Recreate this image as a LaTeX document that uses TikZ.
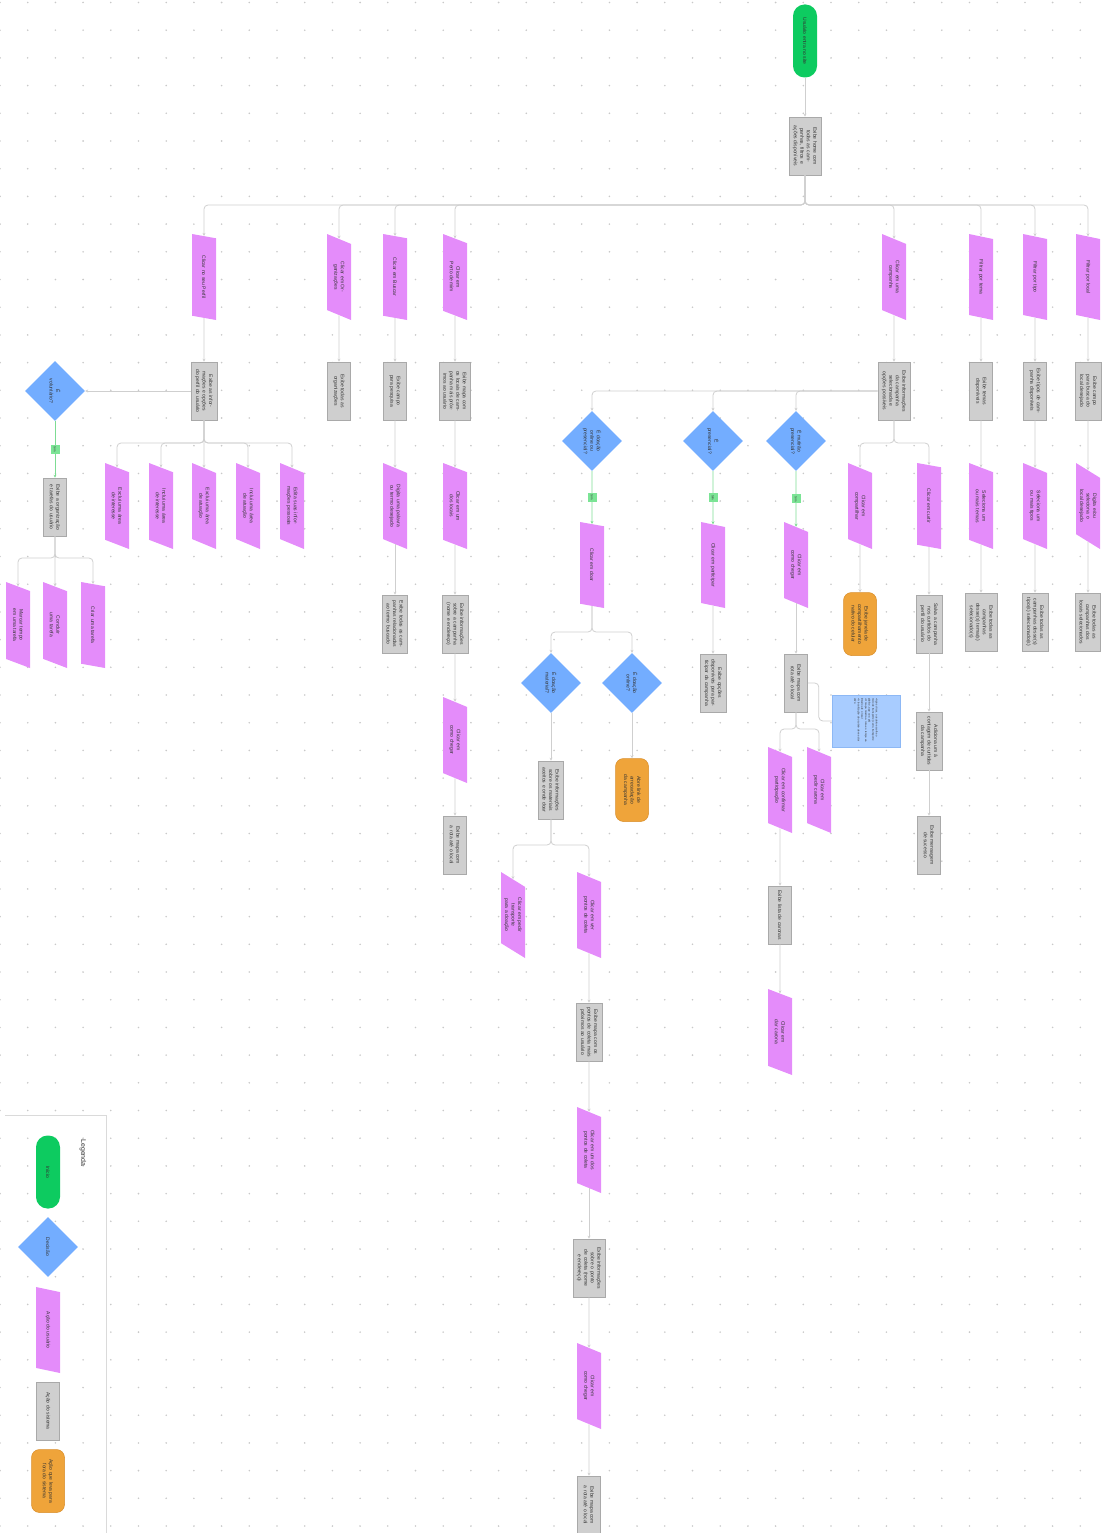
\documentclass[tikz,border=0pt]{standalone}
\usepackage{fontspec}
\setmainfont{Liberation Sans}
\usetikzlibrary{shapes.geometric,arrows.meta}

\begin{document}
\begin{tikzpicture}[x=1pt, y=-1pt,
    caixa/.style={rotate=-90, align=center, text=black!80, font=\fontsize{5}{6.5}\selectfont},
    inicio/.style={caixa, rectangle, fill=colInicio, rounded corners=11.5pt, minimum width=73pt, minimum height=24pt, text width=62pt, inner sep=1pt},
    acao/.style={caixa, trapezium, trapezium left angle=53, trapezium right angle=127, trapezium stretches body, fill=colAcao, minimum width=86pt, minimum height=24pt, text width=44pt, inner sep=1pt},
    sistema/.style={caixa, rectangle, fill=colSis, draw=colSisB, line width=0.6pt, minimum width=58pt, minimum height=23pt, text width=50pt, inner xsep=3pt, inner ysep=4pt},
    decisao/.style={caixa, diamond, aspect=1, fill=colDec, minimum width=60pt, minimum height=60pt, text width=32pt, inner sep=0pt},
    fora/.style={caixa, rectangle, rounded corners=8pt, fill=colFora, draw=colForaB, line width=0.5pt, minimum width=63pt, minimum height=33pt, text width=48pt, inner sep=2pt},
    lembrete/.style={caixa, rectangle, fill=colNota, draw=colNotaB, line width=0.4pt, minimum width=52pt, minimum height=68pt, text width=46pt, align=left, inner sep=2pt, font=\fontsize{2.6}{3.6}\selectfont},
    rotulo/.style={caixa, rectangle, sharp corners, fill=colSim, minimum size=9pt, inner sep=0.5pt, font=\fontsize{3}{3.5}\selectfont},
    seta/.style={draw=colLinha, line width=0.8pt, rounded corners=4pt, -{Stealth[length=3pt,width=3pt]}},
    setaSim/.style={seta, draw=colLinhaSim},
]
    \definecolor{colInicio}{HTML}{0DCB60}
    \definecolor{colAcao}{HTML}{E48CFA}
    \definecolor{colSis}{HTML}{CFCFCF}
    \definecolor{colSisB}{HTML}{A9A9A9}
    \definecolor{colDec}{HTML}{73ADFF}
    \definecolor{colFora}{HTML}{EFA43A}
    \definecolor{colForaB}{HTML}{D98E2B}
    \definecolor{colNota}{HTML}{A8CCFF}
    \definecolor{colNotaB}{HTML}{8DB8F5}
    \definecolor{colSim}{HTML}{7BE495}
    \definecolor{colLinha}{HTML}{CFCFCF}
    \definecolor{colLinhaSim}{HTML}{7DDC93}
    \definecolor{colPonto}{HTML}{C9C9C9}
    \definecolor{colBorda}{HTML}{DADADA}

    \useasboundingbox (0,0) rectangle (1104,1533);

    % grade de pontos
    \foreach \i in {0,...,39}
        \foreach \j in {0,...,55}
            \fill[colPonto] (27.7*\i, 2.5+27.7*\j) circle (0.9pt);

    % inicio
    \node[inicio] (inicio) at (805,41) {Usuário entra no site};
    \node[sistema] (home) at (805,146) {Exibe home com todas as campanhas, filtros e ações disponíveis};
    \coordinate (bTopo) at (805,205);

    % primeira linha
    \node[acao] (pPerfil) at (204,277) {Clicar no seu Perfil};
    \node[acao] (pOrg) at (339,277) {Clicar em Organizações};
    \node[acao] (pBusca) at (395,277) {Clicar em Buscar};
    \node[acao] (pPerto) at (455,277) {Clicar em Perto de mim};
    \node[acao] (pCamp) at (894,277) {Clicar em uma campanha};
    \node[acao] (pTema) at (981,277) {Filtrar por tema};
    \node[acao] (pTipo) at (1035,277) {Filtrar por tipo};
    \node[acao] (pLocal) at (1088,277) {Filtrar por local};

    \node[sistema] (sPerfil) at (204,391) {Exibe as informações e opções do perfil do usuário};
    \node[sistema] (sOrg) at (339,391) {Exibe todas as organizações};
    \node[sistema] (sBusca) at (395,391) {Exibe campo para pesquisa};
    \node[sistema] (sPerto) at (455,391) {Exibe mapa com os locais de campanha mais próximos ao usuário};
    \node[sistema] (sCamp) at (894,391) {Exibe informações da campanha selecionada e opções possíveis};
    \node[sistema] (sTema) at (981,391) {Exibe temas disponíveis};
    \node[sistema] (sTipo) at (1035,391) {Exibe tipos de campanha disponíveis};
    \node[sistema] (sLocal) at (1088,391) {Exibe campo para busca do local desejado};

    % perfil
    \node[decisao] (dVol) at (55,391) {É\\ voluntário?};
    \node[sistema] (sTarefas) at (55,507) {Exibe a organização e tarefas do usuário};
    \node[acao] (pMarcar) at (18,625) {Marcar tempo em uma tarefa};
    \node[acao] (pConcluir) at (55,625) {Concluir uma tarefa};
    \node[acao] (pCriar) at (93,625) {Criar uma tarefa};
    \coordinate (bTarefas) at (55,558);

    \node[acao] (pExclInt) at (117,506) {Exclui uma área de interesse};
    \node[acao] (pInclInt) at (161,506) {Inclui uma área de interesse};
    \node[acao] (pExclAt) at (204,506) {Exclui uma área de atuação};
    \node[acao] (pInclAt) at (248,506) {Inclui uma área de atuação};
    \node[acao] (pEdita) at (292,506) {Edita suas informações pessoais};
    \coordinate (bPerfil) at (204,443);

    % buscar e perto de mim
    \node[acao] (pTermo) at (395,506) {Digita uma palavra ou termo desejado};
    \node[sistema] (sTermo) at (395,624) {Exibe todas as campanhas relacionadas ao termo buscado};
    \node[acao] (pUmLocal) at (455,506) {Clicar em um dos locais};
    \node[sistema] (sInfoLocal) at (455,624) {Exibe informações sobre a campanha (nome e endereço)};
    \node[acao] (pChegar1) at (455,740) {Clicar em como chegar};
    \node[sistema] (sRota1) at (455,845) {Exibe mapa com a rota até o local};

    % campanha
    \node[decisao] (dDoacao) at (592,441) {É doação\\ online ou\\ presencial?};
    \node[decisao] (dPresencial) at (713,441) {É\\ presencial?};
    \node[decisao] (dMutirao) at (796,441) {É mutirão\\ presencial?};
    \node[acao] (pComp) at (860,506) {Clicar em compartilhar};
    \node[acao] (pCurtir) at (929,506) {Clicar em curtir};
    \node[fora] (oComp) at (860,624) {Exibe janela de compartilhamento nativo do celular};
    \node[sistema] (sSalva) at (929,624) {Salva a campanha nos curtidos do perfil do usuário};
    \node[sistema] (sConta) at (929,741) {Adiciona um à contagem de curtidas da campanha};
    \node[sistema] (sSucesso) at (929,845) {Exibe mensagem de sucesso};
    \coordinate (bCamp) at (894,443);

    % filtros
    \node[acao] (pTemas) at (981,506) {Seleciona um ou mais temas};
    \node[sistema] (sTemas) at (981,622) {Exibe todas as campanhas desse(s) tema(s) selecionado(s)};
    \node[acao] (pTipos) at (1035,506) {Seleciona um ou mais tipos};
    \node[sistema] (sTipos) at (1035,622) {Exibe todas as campanhas desse(s) tipo(s) selecionado(s)};
    \node[acao] (pLocais) at (1088,506) {Digita e/ou seleciona o local desejado};
    \node[sistema] (sLocais) at (1088,622) {Exibe todas as campanhas dos locais selecionados};

    % doacao
    \node[acao] (pDoar) at (592,565) {Clicar em doar};
    \coordinate (bDoar) at (592,632);
    \node[decisao] (dMaterial) at (551,683) {É doação\\ material?};
    \node[decisao] (dOnline) at (632,683) {É doação\\ online?};
    \node[sistema] (sMateriais) at (551,790) {Exibe informações sobre os materiais aceitos e onde doar};
    \node[fora] (oLink) at (632,790) {Abre link de arrecadação da campanha};
    \coordinate (bMat) at (551,845);
    \node[acao] (pTransp) at (513,915) {Clicar em pedir transporte para a doação};
    \node[acao] (pPontos) at (589,915) {Clicar em ver pontos de coleta};
    \node[sistema] (sPontos) at (589,1032) {Exibe mapa com os pontos de coleta mais próximos ao usuário};
    \node[acao] (pPonto) at (589,1150) {Clicar em um dos pontos de coleta};
    \node[sistema] (sPonto) at (589,1268) {Exibe informações sobre o ponto de coleta (nome e endereço)};
    \node[acao] (pChegar2) at (589,1386) {Clicar em como chegar};
    \node[sistema] (sRota2) at (589,1505) {Exibe mapa com a rota até o local};

    % presencial
    \node[acao] (pParticipar) at (713,565) {Clicar em participar};
    \node[sistema] (sOpcoes) at (713,683) {Exibe opções disponíveis para participar da campanha};

    % mutirao
    \node[acao] (pChegar3) at (796,565) {Clicar em como chegar};
    \node[sistema] (sRota3) at (796,683) {Exibe mapa com rota até o local};
    \node[lembrete] (nota) at (866,721) {• Após clicar, o usuário escolhe o meio de transporte (carro, transporte público, app ou a pé)\\ • O mapa mostra a rota e o tempo estimado até o local\\ • A localização do usuário deve estar ativa};
    \coordinate (bRota) at (796,729);
    \node[acao] (pConfirmar) at (780,790) {Clicar em confirmar participação};
    \node[acao] (pCarona) at (819,790) {Clicar em pedir carona};
    \node[sistema] (sCaronas) at (780,915) {Exibe lista de caronas};
    \node[acao] (pDarCarona) at (780,1032) {Clicar em dar carona};

    % conexoes
    \draw[seta] (inicio) -- (home);
    \foreach \n in {pPerfil,pOrg,pBusca,pPerto,pCamp,pTema,pTipo,pLocal}
        \draw[seta] (home) -- (bTopo) -| (\n);

    \foreach \a/\b in {pPerfil/sPerfil, pOrg/sOrg, pBusca/sBusca, pPerto/sPerto,
                       pCamp/sCamp, pTema/sTema, pTipo/sTipo, pLocal/sLocal,
                       sBusca/pTermo, pTermo/sTermo, sPerto/pUmLocal, pUmLocal/sInfoLocal,
                       sInfoLocal/pChegar1, pChegar1/sRota1,
                       pComp/oComp, pCurtir/sSalva, sSalva/sConta, sConta/sSucesso,
                       sTema/pTemas, pTemas/sTemas, sTipo/pTipos, pTipos/sTipos,
                       sLocal/pLocais, pLocais/sLocais,
                       dMaterial/sMateriais, dOnline/oLink,
                       pPontos/sPontos, sPontos/pPonto, pPonto/sPonto, sPonto/pChegar2, pChegar2/sRota2,
                       pParticipar/sOpcoes, pChegar3/sRota3, pConfirmar/sCaronas, sCaronas/pDarCarona,
                       sPerfil/dVol, sPerfil/pExclAt, sTarefas/pConcluir}
        \draw[seta] (\a) -- (\b);

    \foreach \n in {pExclInt,pInclInt,pInclAt,pEdita}
        \draw[seta] (sPerfil) -- (bPerfil) -| (\n);
    \foreach \n in {pMarcar,pCriar}
        \draw[seta] (sTarefas) -- (bTarefas) -| (\n);
    \foreach \n in {dDoacao,dPresencial,dMutirao}
        \draw[seta] (sCamp) -| (\n);
    \foreach \n in {pComp,pCurtir}
        \draw[seta] (sCamp) -- (bCamp) -| (\n);
    \foreach \n in {dMaterial,dOnline}
        \draw[seta] (pDoar) -- (bDoar) -| (\n);
    \foreach \n in {pTransp,pPontos}
        \draw[seta] (sMateriais) -- (bMat) -| (\n);
    \foreach \n in {pConfirmar,pCarona}
        \draw[seta] (sRota3) -- (bRota) -| (\n);

    \draw[setaSim] (dVol) -- node[rotulo] {Sim} (sTarefas);
    \draw[setaSim] (dDoacao) -- node[rotulo] {Sim} (pDoar);
    \draw[setaSim] (dPresencial) -- node[rotulo] {Sim} (pParticipar);
    \draw[setaSim] (dMutirao) -- node[rotulo] {Sim} (pChegar3);

    \draw[colLinha, line width=0.8pt, rounded corners=4pt] (sRota3.north) -- ++(11,0) |- (nota.south);

    % legenda
    \draw[colBorda, line width=0.6pt] (5,1115) -- (106,1115) -- (106,1533);
    \node[caixa, font=\fontsize{7}{8}\selectfont] (legenda) at (83,1153) {Legenda};
    \node[inicio] (lInicio) at (48,1172) {Início};
    \node[decisao] (lDecisao) at (48,1247) {Decisão};
    \node[acao] (lAcao) at (48,1330) {Ação do usuário};
    \node[sistema] (lSistema) at (48,1411) {Ação do sistema};
    \node[fora] (lFora) at (48,1481) {Ação que leva para fora do sistema};
\end{tikzpicture}
\end{document}
